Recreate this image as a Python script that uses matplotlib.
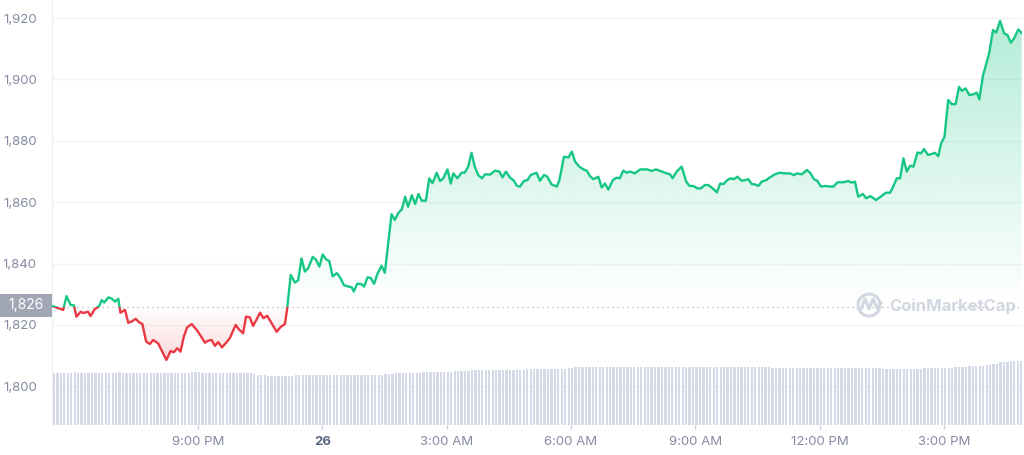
import matplotlib
matplotlib.use("Agg")
import matplotlib.pyplot as plt
import numpy as np
from matplotlib.patches import Polygon, Rectangle, Circle
from matplotlib.lines import Line2D
from matplotlib.colors import to_rgb
from matplotlib.transforms import IdentityTransform

plt.rcParams['font.family'] = ['Inter', 'DejaVu Sans']

# time in hours since midnight of the 25th (24 = midnight of the 26th)
times = [
    17.49, 17.75, 17.83, 17.93, 18.01, 18.07, 18.17, 18.23, 18.35, 18.41,
    18.51, 18.62, 18.68, 18.74, 18.84, 18.92, 19.00, 19.08, 19.13, 19.24,
    19.32, 19.40, 19.50, 19.58, 19.66, 19.75, 19.84, 19.92, 20.04, 20.16,
    20.24, 20.34, 20.42, 20.50, 20.58, 20.66, 20.74, 20.85, 20.97, 21.07,
    21.17, 21.25, 21.33, 21.41, 21.49, 21.58, 21.68, 21.77, 21.91, 22.00,
    22.09, 22.16, 22.25, 22.33, 22.42, 22.50, 22.58, 22.67, 22.78, 22.90,
    23.00, 23.10, 23.15, 23.24, 23.34, 23.42, 23.50, 23.58, 23.66, 23.77,
    23.85, 23.93, 24.01, 24.09, 24.17, 24.25, 24.35, 24.43, 24.52, 24.63,
    24.71, 24.76, 24.84, 24.93, 25.01, 25.09, 25.17, 25.25, 25.33, 25.43,
    25.51, 25.59, 25.67, 25.75, 25.83, 25.92, 26.00, 26.07, 26.16, 26.24,
    26.32, 26.40, 26.50, 26.58, 26.66, 26.76, 26.84, 26.92, 27.02, 27.10,
    27.16, 27.26, 27.36, 27.44, 27.52, 27.60, 27.68, 27.76, 27.85, 27.93,
    28.05, 28.17, 28.27, 28.35, 28.43, 28.53, 28.61, 28.70, 28.77, 28.87,
    28.95, 29.03, 29.17, 29.25, 29.35, 29.43, 29.53, 29.66, 29.72, 29.83,
    29.94, 30.02, 30.10, 30.20, 30.30, 30.38, 30.46, 30.54, 30.66, 30.74,
    30.82, 30.90, 31.01, 31.10, 31.18, 31.26, 31.34, 31.42, 31.54, 31.67,
    31.83, 31.95, 32.05, 32.19, 32.31, 32.39, 32.45, 32.55, 32.67, 32.78,
    32.86, 32.95, 33.05, 33.13, 33.23, 33.31, 33.42, 33.52, 33.60, 33.68,
    33.77, 33.85, 33.93, 34.01, 34.12, 34.20, 34.28, 34.36, 34.44, 34.52,
    34.60, 34.71, 34.80, 34.92, 35.03, 35.16, 35.29, 35.38, 35.45, 35.57,
    35.69, 35.78, 35.86, 35.94, 36.03, 36.13, 36.25, 36.33, 36.43, 36.57,
    36.69, 36.77, 36.85, 36.93, 37.04, 37.12, 37.22, 37.36, 37.47, 37.60,
    37.70, 37.78, 37.86, 37.94, 38.02, 38.10, 38.18, 38.26, 38.36, 38.44,
    38.52, 38.61, 38.70, 38.78, 38.86, 38.93, 39.01, 39.10, 39.19, 39.28,
    39.36, 39.43, 39.52, 39.61, 39.71, 39.79, 39.85, 39.94, 40.01, 40.09,
    40.18, 40.26, 40.35, 40.45, 40.53, 40.61, 40.69, 40.79, 40.87,
]
prices = [
    1826.2, 1824.9, 1829.4, 1826.5, 1826.4, 1822.7, 1824.3, 1823.9, 1824.3, 1822.9,
    1825.1, 1826.2, 1828.1, 1827.3, 1829.0, 1828.6, 1827.6, 1828.5, 1824.0, 1824.9,
    1820.7, 1821.1, 1822.0, 1820.9, 1820.3, 1814.6, 1813.8, 1815.1, 1814.0, 1810.8,
    1808.6, 1811.5, 1811.1, 1812.4, 1811.3, 1816.2, 1819.2, 1820.3, 1818.4, 1816.4,
    1814.2, 1814.9, 1815.1, 1813.2, 1814.4, 1812.7, 1814.2, 1815.7, 1820.0, 1818.4,
    1817.3, 1822.7, 1822.5, 1819.7, 1821.9, 1824.0, 1822.2, 1823.0, 1820.5, 1817.8,
    1819.4, 1820.3, 1825.1, 1836.3, 1833.8, 1834.6, 1841.7, 1837.4, 1838.5, 1842.2,
    1841.2, 1839.0, 1843.0, 1841.4, 1840.8, 1835.8, 1836.9, 1835.5, 1833.0, 1832.5,
    1832.3, 1830.9, 1833.4, 1833.4, 1832.5, 1835.5, 1835.3, 1833.4, 1836.6, 1839.3,
    1837.0, 1846.6, 1856.1, 1854.2, 1856.4, 1857.7, 1861.8, 1858.5, 1862.3, 1859.4,
    1862.7, 1860.5, 1860.5, 1867.8, 1866.2, 1869.6, 1866.9, 1867.8, 1870.7, 1866.1,
    1869.4, 1867.8, 1869.6, 1869.7, 1871.6, 1876.1, 1871.6, 1868.9, 1867.8, 1869.1,
    1869.0, 1870.3, 1870.0, 1868.1, 1870.0, 1868.0, 1867.2, 1865.3, 1865.1, 1867.0,
    1867.2, 1868.9, 1869.6, 1867.0, 1868.9, 1868.3, 1865.8, 1865.1, 1867.2, 1874.8,
    1874.6, 1876.5, 1873.2, 1871.6, 1870.7, 1870.3, 1868.5, 1867.5, 1868.3, 1864.8,
    1866.1, 1864.1, 1867.2, 1868.0, 1867.8, 1870.3, 1869.6, 1870.0, 1869.4, 1870.7,
    1870.7, 1870.2, 1870.7, 1870.0, 1869.4, 1869.1, 1867.8, 1870.0, 1871.6, 1866.7,
    1865.3, 1865.3, 1864.5, 1864.5, 1865.6, 1865.6, 1864.5, 1863.2, 1866.1, 1865.9,
    1867.2, 1867.8, 1867.5, 1868.3, 1867.0, 1867.2, 1867.5, 1865.9, 1865.8, 1865.3,
    1866.7, 1867.2, 1868.1, 1869.1, 1869.6, 1869.4, 1869.4, 1868.8, 1869.4, 1869.1,
    1870.5, 1869.4, 1867.5, 1867.0, 1865.1, 1865.3, 1865.1, 1865.1, 1866.5, 1866.5,
    1866.9, 1866.4, 1866.7, 1861.8, 1862.7, 1861.3, 1862.0, 1860.7, 1861.8, 1863.1,
    1863.1, 1865.3, 1867.8, 1867.8, 1874.3, 1870.0, 1871.9, 1871.6, 1876.2, 1875.9,
    1877.3, 1875.4, 1875.7, 1876.1, 1875.0, 1879.2, 1881.3, 1893.3, 1891.9, 1892.0,
    1897.6, 1896.3, 1897.1, 1894.9, 1895.2, 1895.7, 1893.5, 1901.4, 1904.7, 1908.7,
    1916.1, 1915.3, 1919.1, 1915.0, 1914.5, 1912.0, 1913.4, 1916.3, 1915.2,
]

# 5 minute volume bars (relative units), first bar starts at 17:30
vol_start = 17.5
volumes = [
    5.2, 5.2, 5.2, 5.2, 5.2, 5.2, 5.3, 5.2, 5.2, 5.2, 5.2, 5.2, 5.2, 5.2, 5.2, 5.2, 5.2, 5.2, 5.2, 5.3,
    5.2, 5.2, 5.2, 5.2, 5.2, 5.2, 5.2, 5.2, 5.2, 5.2, 5.2, 5.2, 5.2, 5.2, 5.2, 5.2, 5.2, 5.2, 5.2, 5.2,
    5.3, 5.3, 5.3, 5.2, 5.2, 5.2, 5.2, 5.2, 5.2, 5.2, 5.2, 5.2, 5.2, 5.2, 5.2, 5.2, 5.2, 5.2, 5.1, 5.0,
    5.0, 5.0, 4.9, 4.9, 4.9, 4.9, 4.9, 4.9, 4.9, 4.9, 5.0, 5.0, 5.0, 5.0, 5.0, 5.0, 5.0, 5.0, 5.0, 5.0,
    5.0, 5.0, 5.0, 5.0, 5.0, 5.0, 5.0, 5.0, 5.0, 5.0, 5.0, 5.0, 5.0, 5.0, 5.0, 5.0, 5.1, 5.1, 5.1, 5.2,
    5.2, 5.2, 5.2, 5.2, 5.2, 5.2, 5.2, 5.3, 5.3, 5.3, 5.3, 5.3, 5.35, 5.35, 5.35, 5.35, 5.4, 5.4, 5.4, 5.4,
    5.4, 5.5, 5.5, 5.5, 5.5, 5.5, 5.5, 5.5, 5.5, 5.5, 5.5, 5.5, 5.5, 5.5, 5.5, 5.5, 5.5, 5.6, 5.6, 5.6,
    5.6, 5.6, 5.6, 5.6, 5.6, 5.6, 5.6, 5.6, 5.6, 5.7, 5.7, 5.8, 5.8, 5.8, 5.8, 5.8, 5.8, 5.8, 5.8, 5.8,
    5.8, 5.8, 5.8, 5.8, 5.8, 5.8, 5.8, 5.8, 5.8, 5.8, 5.8, 5.8, 5.8, 5.8, 5.8, 5.8, 5.8, 5.8, 5.8, 5.8,
    5.8, 5.8, 5.8, 5.8, 5.8, 5.8, 5.85, 5.85, 5.85, 5.85, 5.85, 5.85, 5.85, 5.85, 5.85, 5.85, 5.85, 5.85, 5.85, 5.85,
    5.85, 5.85, 5.85, 5.85, 5.85, 5.85, 5.85, 5.85, 5.75, 5.75, 5.75, 5.75, 5.75, 5.75, 5.7, 5.7, 5.7, 5.7, 5.7, 5.7,
    5.75, 5.75, 5.75, 5.75, 5.75, 5.75, 5.75, 5.75, 5.75, 5.75, 5.75, 5.75, 5.7, 5.7, 5.7, 5.7, 5.7, 5.7, 5.7, 5.7,
    5.65, 5.65, 5.65, 5.65, 5.6, 5.6, 5.65, 5.65, 5.65, 5.65, 5.65, 5.65, 5.7, 5.7, 5.7, 5.7, 5.75, 5.75, 5.75, 5.75,
    5.75, 5.85, 5.85, 5.85, 5.85, 5.95, 5.95, 5.95, 5.95, 5.95, 6.05, 6.05, 6.15, 6.15, 6.35, 6.35, 6.35, 6.45, 6.45, 6.45,
    6.45,
]

open_price = 1826
open_label = '1,826'
y_ticks = [1800, 1820, 1840, 1860, 1880, 1900, 1920]
y_labels = ['1,800', '1,820', '1,840', '1,860', '1,880', '1,900', '1,920']
x_ticks = [21, 24, 27, 30, 33, 36, 39]
x_labels = ['9:00 PM', '26', '3:00 AM', '6:00 AM', '9:00 AM', '12:00 PM', '3:00 PM']

GREEN = '#16c784'
RED = '#ea3943'
TXT = '#858ca2'

W, H = 1024, 455
fig = plt.figure(figsize=(W / 100, H / 100), dpi=100)
pos = [52 / W, 30 / H, 970 / W, 425 / H]
xlim = (17.48, 40.88)
ylim = (1787.4, 1925.9)

ax = fig.add_axes(pos)
ax.set_xlim(*xlim)
ax.set_ylim(*ylim)
ax.set_axisbelow(True)
ax.yaxis.grid(True, color='#f1f3f6', lw=1)
for s in ['top', 'right', 'bottom']:
    ax.spines[s].set_visible(False)
ax.spines['left'].set_color('#eef0f4')

ax.set_yticks(y_ticks)
ax.set_yticklabels(y_labels)
ax.set_xticks(x_ticks)
ax.set_xticklabels(x_labels)
ax.tick_params(axis='y', length=0, pad=11, labelsize=9.5, labelcolor=TXT)
ax.tick_params(axis='x', length=3, width=1, color='#c8ced9', pad=5, labelsize=9.5, labelcolor=TXT)
lab26 = ax.get_xticklabels()[1]
lab26.set_fontweight('bold')
lab26.set_color('#58667e')

# area between the price line and the opening price, used as clip for gradients
verts = [(times[0], open_price)] + list(zip(times, prices)) + [(times[-1], open_price)]
area = Polygon(verts, closed=True, transform=ax.transData)


def gradient(color, y0, y1, a0, a1):
    img = np.zeros((200, 1, 4))
    img[:, 0, :3] = to_rgb(color)
    img[:, 0, 3] = np.linspace(a0, a1, 200)
    im = ax.imshow(img, extent=[xlim[0], xlim[1], y0, y1], origin='lower',
                   aspect='auto', zorder=2, interpolation='bilinear')
    im.set_clip_path(area)


gradient(GREEN, open_price, 1925, 0.0, 0.34)
gradient(RED, 1806, open_price, 0.22, 0.0)
ax.set_xlim(*xlim)
ax.set_ylim(*ylim)

ax.axhline(open_price, color='#aab0bc', lw=0.9, ls=(0, (1, 3)), zorder=3)

up, = ax.plot(times, prices, color=GREEN, lw=1.7, zorder=4, solid_joinstyle='round')
up.set_clip_path(Rectangle((xlim[0], open_price), xlim[1] - xlim[0], 200, transform=ax.transData))
down, = ax.plot(times, prices, color=RED, lw=1.7, zorder=4, solid_joinstyle='round')
down.set_clip_path(Rectangle((xlim[0], open_price - 200), xlim[1] - xlim[0], 200, transform=ax.transData))

# volume bars on their own axes over the price axes
ax_vol = fig.add_axes(pos)
ax_vol.patch.set_visible(False)
vol_t = vol_start + np.arange(len(volumes)) / 12
ax_vol.bar(vol_t, volumes, width=0.66 / 12, align='edge', color='#d3d9e6', lw=0)
ax_vol.set_xlim(*xlim)
ax_vol.set_ylim(0, 42.5)
ax_vol.axis('off')

# opening price tag on the left
fig.add_artist(Rectangle((0, 1 - 317 / H), 52 / W, 23 / H, transform=fig.transFigure,
                         facecolor='#a1a7b4', edgecolor='none'))
fig.text(26 / W, 1 - 305.5 / H, open_label, color='white', fontsize=10,
         ha='center', va='center')

# watermark
wm = '#d2d7e1'
fig.add_artist(Circle((869, H - 305), 11, transform=IdentityTransform(),
                      facecolor='none', edgecolor=wm, lw=2.2))
fig.add_artist(Line2D([861, 865, 869, 873, 877, 881], [H - 309, H - 299, H - 309, H - 299, H - 308, H - 303],
                      transform=IdentityTransform(), color=wm, lw=2.2, solid_joinstyle='round'))
fig.text(889 / W, 1 - 306 / H, 'CoinMarketCap', color=wm, fontsize=12,
         fontweight='bold', ha='left', va='center')

fig.savefig('out.png', dpi=100, facecolor='white')
